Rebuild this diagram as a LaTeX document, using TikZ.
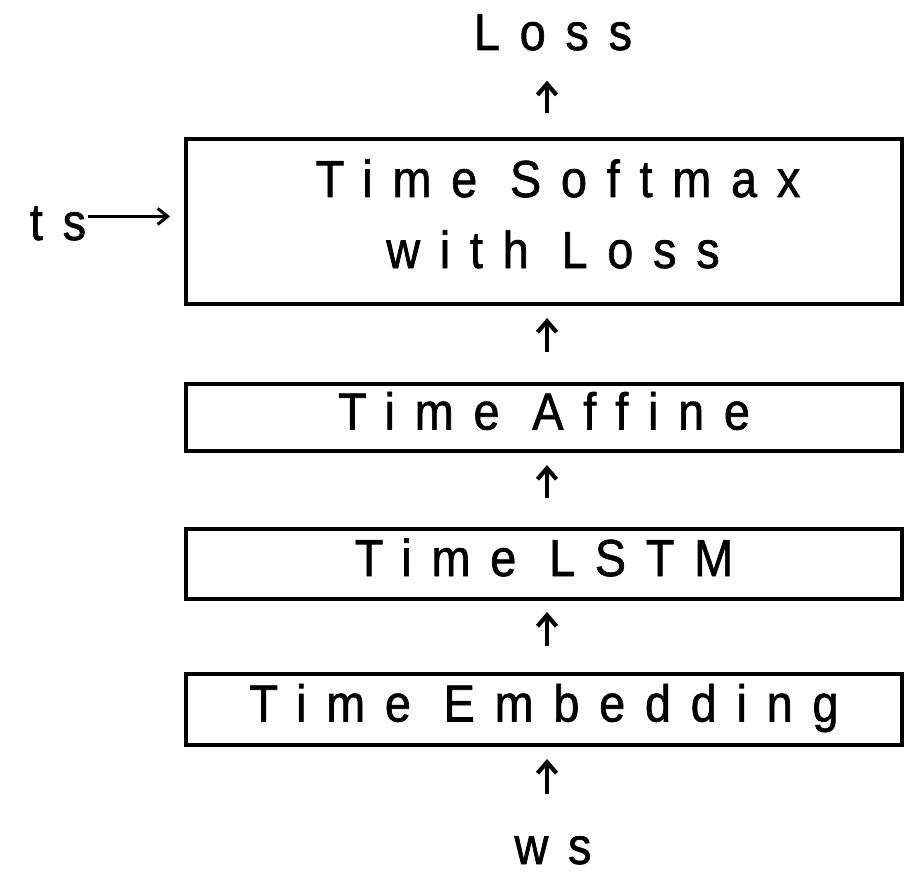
\documentclass[tikz,border=0pt]{standalone}
\usepackage{fontspec}
\setmainfont{Liberation Sans}
\newfontfamily\diagfont[FakeStretch=0.9,LetterSpace=38,FakeBold=1.2]{Liberation Sans}
\usetikzlibrary{arrows.meta}
\begin{document}
\begin{tikzpicture}[x=1pt,y=-1pt,
  lbl/.style={font=\diagfont\fontsize{52}{60}\selectfont,inner sep=0pt},
  box/.style={lbl,draw,line width=4pt,minimum width=716pt,text height=34pt,text depth=10pt},
  up/.style={-{Straight Barb[length=11pt,width=19pt]},line width=4.2pt},
  rt/.style={-{Straight Barb[length=10pt,width=16pt]},line width=3pt}]
\useasboundingbox (0,0) rectangle (904,877);
% boxes
\node[box,minimum height=165pt] (sm) at (544,221.5) {};
\node[lbl,anchor=base] (sm1) at (558,197) {Time Softmax};
\node[lbl,anchor=base] (sm2) at (553,268) {with Loss};
\node[box,minimum height=67pt] (aff) at (544,417.5) {Time Affine};
\node[box,minimum height=70pt] (lstm) at (544,564) {Time LSTM};
\node[box,minimum height=71pt] (emb) at (544,709.5) {Time Embedding};
% labels
\node[lbl,anchor=base] (loss) at (553,50) {Loss};
\node[lbl,anchor=base] (ws) at (553,864) {ws};
\node[lbl,anchor=base] (ts) at (58,240) {ts};
% connectors
\draw[up,shorten <=42pt,shorten >=12pt] ([xshift=3pt]emb.south |- ws.north) -- ([xshift=3pt]emb.south);
\draw[up,shorten <=26pt,shorten >=11pt] ([xshift=3pt]emb.north) -- ([xshift=3pt]lstm.south);
\draw[up,shorten <=29pt,shorten >=12pt] ([xshift=3pt]lstm.north) -- ([xshift=3pt]aff.south);
\draw[up,shorten <=30pt,shorten >=12pt] ([xshift=3pt]aff.north) -- ([xshift=3pt]sm.south);
\draw[up,shorten <=24pt,shorten >=30pt] ([xshift=3pt]sm.north) -- ([xshift=3pt]sm.north |- loss.south);
\draw[rt,shorten <=2pt,shorten >=14pt] ([yshift=7pt]ts.east) -- ([yshift=7pt]ts.east -| sm.west);
\end{tikzpicture}
\end{document}
